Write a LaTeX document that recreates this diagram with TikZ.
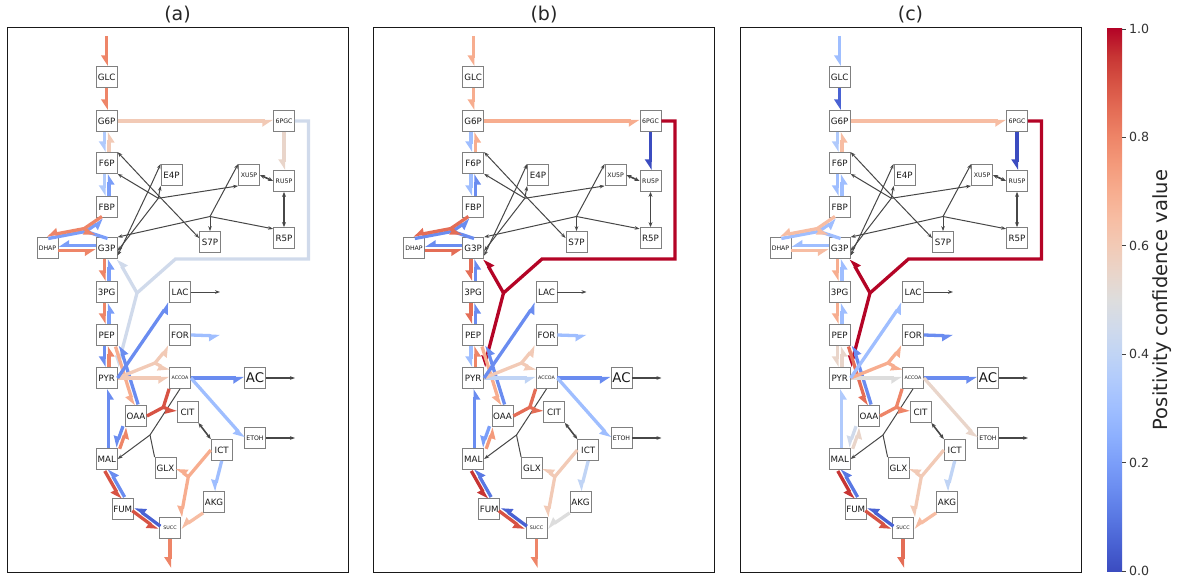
\documentclass[tikz,border=0pt]{standalone}
\usepackage{fontspec}
\setmainfont{DejaVu Sans}
\usetikzlibrary{arrows.meta,calc}

% coolwarm colour map in steps of 0.05
\definecolor{cw00}{RGB}{59,76,192}
\definecolor{cw05}{RGB}{73,98,211}
\definecolor{cw10}{RGB}{89,120,227}
\definecolor{cw15}{RGB}{106,140,240}
\definecolor{cw20}{RGB}{123,158,249}
\definecolor{cw25}{RGB}{141,176,254}
\definecolor{cw30}{RGB}{159,190,255}
\definecolor{cw35}{RGB}{176,202,252}
\definecolor{cw40}{RGB}{192,212,245}
\definecolor{cw45}{RGB}{208,218,235}
\definecolor{cw50}{RGB}{221,221,221}
\definecolor{cw55}{RGB}{233,213,202}
\definecolor{cw60}{RGB}{242,202,182}
\definecolor{cw65}{RGB}{247,189,163}
\definecolor{cw70}{RGB}{247,173,143}
\definecolor{cw75}{RGB}{244,154,123}
\definecolor{cw80}{RGB}{238,133,104}
\definecolor{cw85}{RGB}{228,109,86}
\definecolor{cw90}{RGB}{215,83,68}
\definecolor{cw95}{RGB}{199,53,52}
\definecolor{cw100}{RGB}{180,4,38}

\pgfdeclareverticalshading{coolwarm}{100bp}{color(0bp)=(cw00); color(25bp)=(cw00);
  color(27.5bp)=(cw05); color(30bp)=(cw10); color(32.5bp)=(cw15); color(35bp)=(cw20);
  color(37.5bp)=(cw25); color(40bp)=(cw30); color(42.5bp)=(cw35); color(45bp)=(cw40);
  color(47.5bp)=(cw45); color(50bp)=(cw50); color(52.5bp)=(cw55); color(55bp)=(cw60);
  color(57.5bp)=(cw65); color(60bp)=(cw70); color(62.5bp)=(cw75); color(65bp)=(cw80);
  color(67.5bp)=(cw85); color(70bp)=(cw90); color(72.5bp)=(cw95); color(75bp)=(cw100);
  color(100bp)=(cw100)}

\tikzset{
  met/.style={draw=black!50,line width=0.8pt,fill=white,minimum size=21pt,inner sep=0pt,text=black!90,font=\fontsize{8.7}{9}\selectfont},
  metsm/.style={met,font=\fontsize{6.2}{7}\selectfont},
  metxs/.style={met,font=\fontsize{4.8}{5}\selectfont},
  flux/.style={draw=#1,line width=3.3pt,-{Triangle[right,length=9pt,width=11pt]}},
  rside/.style={to path={($(\tikztostart)!2.2pt!-90:(\tikztotarget)$) -- ($(\tikztotarget)!2.2pt!90:(\tikztostart)$)}},
  rxn/.style={draw=black!72,line width=1pt,-{Stealth[length=5pt,width=3.6pt]}},
  rxnrev/.style={draw=black!72,line width=1.6pt,{Stealth[length=5pt,width=4pt]}-{Stealth[length=5pt,width=4pt]}},
}

\newcommand\setflux[1]{\foreach \fn/\fv in {#1}{\xglobal\colorlet{c-\fn}{cw\fv}}}

\newcommand\metnet[2]{%
\node[font=\fontsize{19}{23}\selectfont,text=black!85] (#1title) at (177.5,15) {#2};
\draw[line width=1pt,black!90] (7,28) rectangle (348,572);
% free ends and branch points
\coordinate (#1in) at (106.7,36);
\coordinate (#1out) at (170,568);
\coordinate (#1lacx) at (220,292);
\coordinate (#1forx) at (220,336);
\coordinate (#1acx) at (295,378);
\coordinate (#1etohx) at (295,438);
\coordinate (#1fba) at (85,230);
\coordinate (#1edr) at (308.5,259);
\coordinate (#1edl) at (175.5,259);
\coordinate (#1edj) at (137,293);
\coordinate (#1pflj) at (155,363);
\coordinate (#1csj) at (163.3,407.3);
\coordinate (#1iclj) at (188.3,476.7);
\coordinate (#1malsj) at (150,435);
\coordinate (#1tkta) at (210,216.5);
\coordinate (#1tktb) at (158.3,198.3);
\coordinate (#1tala) at (150.2,186.9);
% metabolites
\node[met] (#1GLC) at (106.7,77) {GLC};
\node[met] (#1G6P) at (106.7,121) {G6P};
\node[met] (#1F6P) at (106.7,163) {F6P};
\node[met] (#1FBP) at (106.7,207) {FBP};
\node[met] (#1G3P) at (106.7,248) {G3P};
\node[metsm] (#1DHAP) at (47.5,248) {DHAP};
\node[met] (#13PG) at (106.7,292) {3PG};
\node[met] (#1PEP) at (106.7,335) {PEP};
\node[met] (#1PYR) at (106.7,378) {PYR};
\node[met] (#1OAA) at (136,416) {OAA};
\node[met] (#1MAL) at (106.7,459) {MAL};
\node[met] (#1FUM) at (122.7,509) {FUM};
\node[metxs] (#1SUCC) at (170,528) {SUCC};
\node[met] (#1E4P) at (171.5,175) {E4P};
\node[metsm] (#1XU5P) at (249,175) {XU5P};
\node[metsm] (#1RU5P) at (284,181) {RU5P};
\node[met] (#1S7P) at (210,242) {S7P};
\node[met] (#1R5P) at (284,238) {R5P};
\node[metsm] (#16PGC) at (284,121) {6PGC};
\node[met] (#1LAC) at (180,292) {LAC};
\node[met] (#1FOR) at (180,335) {FOR};
\node[metxs] (#1ACCOA) at (180,378) {ACCOA};
\node[met,font=\fontsize{13.3}{14}\selectfont] (#1AC) at (255,378) {AC};
\node[met] (#1CIT) at (187.5,412) {CIT};
\node[met] (#1ICT) at (221.7,450) {ICT};
\node[metsm] (#1ETOH) at (255,438) {ETOH};
\node[met] (#1GLX) at (165.5,468) {GLX};
\node[met] (#1AKG) at (214,502) {AKG};
% pentose phosphate reactions
\draw[rxnrev] (#1XU5P.east) -- (#1RU5P.west);
\draw[rxnrev] (#1RU5P.south) -- (#1R5P.north);
\draw[rxn] (#1tkta) -- (#1XU5P.north west);
\draw[rxn] (#1tkta) -- (#1R5P.140);
\draw[rxn] (#1tkta) -- (#1S7P.north);
\draw[rxn] (#1tkta) -- (#1G3P.north east);
\draw[rxn] (#1tktb) -- (#1XU5P.south west);
\draw[rxn] (#1tktb) -- (#1F6P.south east);
\draw[rxn] (#1tktb) -- (#1E4P.south west);
\draw[rxn] (#1tktb) -- (#1G3P.-15);
\draw[rxn] (#1tala) -- (#1F6P.north east);
\draw[rxn] (#1tala) -- (#1S7P.160);
\draw[rxn] (#1tala) -- (#1E4P.north west);
\draw[rxn] (#1tala) -- (#1G3P.-35);
% glycolysis
\draw[flux=c-glcin] (#1in) -- (#1GLC.north);
\draw[flux=c-hex] (#1GLC.south) -- (#1G6P.north);
\draw[flux=c-zwf] (#1G6P.east) -- (#16PGC.west);
\draw[flux=c-gnd] (#16PGC.south) -- (#1RU5P.north);
\draw[flux=c-pgif] (#1G6P.south) to[rside] (#1F6P.north);
\draw[flux=c-pgib] (#1F6P.north) to[rside] (#1G6P.south);
\draw[flux=c-pfk] (#1F6P.south) to[rside] (#1FBP.north);
\draw[flux=c-fbp] (#1FBP.north) to[rside] (#1F6P.south);
\draw[flux=c-fbab,transform canvas={shift={(0.8,1.4)}}] (#1DHAP.north) -- (#1fba) -- (#1FBP.-110);
\draw[flux=c-fbab,-,transform canvas={shift={(0.8,1.4)}}] (#1G3P.north) -- (#1fba);
\draw[flux=c-fbaf,transform canvas={shift={(-0.8,-1.4)}}] (#1FBP.-110) -- (#1fba) -- (#1DHAP.north);
\draw[flux=c-fbaf,transform canvas={shift={(-0.8,-1.4)}}] (#1fba) -- (#1G3P.north west);
\draw[flux=c-tpib] (#1G3P.west) to[rside] (#1DHAP.east);
\draw[flux=c-tpif] (#1DHAP.east) to[rside] (#1G3P.west);
\draw[flux=c-gapf] (#1G3P.south) to[rside] (#13PG.north);
\draw[flux=c-gapb] (#13PG.north) to[rside] (#1G3P.south);
\draw[flux=c-enof] (#13PG.south) to[rside] (#1PEP.north);
\draw[flux=c-enob] (#1PEP.north) to[rside] (#13PG.south);
\draw[flux=c-pykf] (#1PEP.south) to[rside] (#1PYR.north);
\draw[flux=c-pykb] (#1PYR.north) to[rside] (#1PEP.south);
% Entner-Doudoroff
\draw[flux=c-edd,-] (#16PGC.east) -| (#1edr) -- (#1edl) -- (#1edj);
\draw[flux=c-edd] (#1edj) -- (#1G3P.south east);
\draw[flux=c-edd] (#1edj) -- (#1PYR.north east);
% pyruvate branch
\draw[flux=c-ppc] (#1PEP.south east) to[rside] (#1OAA.north);
\draw[flux=c-ppck] (#1OAA.north) to[rside] (#1PEP.south east);
\draw[flux=c-pdh] (#1PYR.east) -- (#1ACCOA.west);
\draw[flux=c-pfl,-] (#1PYR.east) -- (#1pflj);
\draw[flux=c-pfl] (#1pflj) -- (#1FOR.south west);
\draw[flux=c-pfl] (#1pflj) -- ($(#1ACCOA.north west)+(0,3.5)$);
\draw[flux=c-ldh] (#1PYR.east) -- (#1LAC.south west);
\draw[flux=c-forex] (#1FOR.east) -- (#1forx);
\draw[flux=c-ack] (#1ACCOA.east) -- (#1AC.west);
\draw[flux=c-adh] (#1ACCOA.east) -- (#1ETOH.west);
\draw[rxn] (#1LAC.east) -- (#1lacx);
\draw[rxn,line width=1.4pt] (#1AC.east) -- (#1acx);
\draw[rxn,line width=1.4pt] (#1ETOH.east) -- (#1etohx);
% TCA cycle and glyoxylate shunt
\draw[rxn,-] (#1ACCOA.south) -- (#1malsj);
\draw[rxn,-] (#1GLX.north west) -- (#1malsj);
\draw[rxn] (#1malsj) -- (#1MAL.east);
\draw[flux=c-cs,-] (#1OAA.east) -- (#1csj);
\draw[flux=c-cs,-] (#1ACCOA.south west) -- (#1csj);
\draw[flux=c-cs] (#1csj) -- (#1CIT.west);
\draw[rxnrev] (#1CIT.south east) -- (#1ICT.north west);
\draw[flux=c-icl,-] (#1ICT.west) -- (#1iclj);
\draw[flux=c-icl] (#1iclj) -- (#1GLX.east);
\draw[flux=c-icl] (#1iclj) -- (#1SUCC.north east);
\draw[flux=c-icd] (#1ICT.south) -- (#1AKG.north);
\draw[flux=c-akgdh] (#1AKG.south west) -- (#1SUCC.east);
\draw[flux=c-frd] (#1FUM.east) to[rside] (#1SUCC.west);
\draw[flux=c-sdh] (#1SUCC.west) to[rside] (#1FUM.east);
\draw[flux=c-fumrev] (#1MAL.south) to[rside] (#1FUM.north);
\draw[flux=c-fum] (#1FUM.north) to[rside] (#1MAL.south);
\draw[flux=c-mdh] (#1MAL.north east) to[rside] (#1OAA.south west);
\draw[flux=c-mdhrev] (#1OAA.south west) to[rside] (#1MAL.north east);
\draw[flux=c-me] ([xshift=1.5pt]#1MAL.north) -- ([xshift=1.5pt]#1PYR.south);
\draw[flux=c-succex] (#1SUCC.south) -- (#1out);
}

\begin{document}
\begin{tikzpicture}[x=1pt,y=-1pt]
\useasboundingbox (0,0) rectangle (1180,585);

\begin{scope}
\setflux{glcin/80,hex/80,zwf/60,pgif/35,pgib/60,pfk/35,fbp/20,fbaf/80,fbab/20,tpif/80,tpib/20,gapf/80,gapb/20,enof/80,enob/20,pykf/15,pykb/80,gnd/55,edd/45,ppc/70,ppck/15,ldh/15,pfl/60,pdh/60,forex/30,ack/15,adh/30,cs/90,icl/70,icd/30,akgdh/65,frd/90,sdh/05,fumrev/90,fum/15,mdh/80,mdhrev/15,me/15,succex/80}
\metnet{a}{(a)}
\end{scope}

\begin{scope}[shift={(366.5,0)}]
\setflux{glcin/70,hex/70,zwf/70,pgif/30,pgib/70,pfk/30,fbp/15,fbaf/85,fbab/15,tpif/85,tpib/15,gapf/85,gapb/15,enof/85,enob/15,pykf/30,pykb/80,gnd/00,edd/100,ppc/70,ppck/15,ldh/15,pfl/60,pdh/40,forex/30,ack/15,adh/30,cs/85,icl/60,icd/40,akgdh/50,frd/90,sdh/05,fumrev/95,fum/10,mdh/75,mdhrev/20,me/15,succex/80}
\metnet{b}{(b)}
\end{scope}

\begin{scope}[shift={(733,0)}]
\setflux{glcin/30,hex/05,zwf/65,pgif/35,pgib/65,pfk/30,fbp/30,fbaf/65,fbab/30,tpif/65,tpib/30,gapf/70,gapb/30,enof/70,enob/30,pykf/55,pykb/55,gnd/00,edd/100,ppc/85,ppck/15,ldh/30,pfl/70,pdh/50,forex/15,ack/15,adh/55,cs/80,icl/60,icd/40,akgdh/65,frd/90,sdh/05,fumrev/95,fum/10,mdh/55,mdhrev/45,me/35,succex/85}
\metnet{c}{(c)}
\end{scope}

% colour bar
\shade[shading=coolwarm] (1107,571) rectangle (1122,29);
\foreach \tv in {0.0,0.2,0.4,0.6,0.8,1.0}{
  \draw[black!75,line width=0.8pt] (1122,571-542*\tv) -- (1126,571-542*\tv);
  \node[anchor=west,inner sep=0pt,text=black!80,font=\fontsize{12.6}{14}\selectfont] at (1129,571-542*\tv) {\tv};
}
\node[rotate=90,text=black!85,font=\fontsize{19.5}{22}\selectfont] (cblabel) at (1162,300) {Positivity confidence value};
\end{tikzpicture}
\end{document}
